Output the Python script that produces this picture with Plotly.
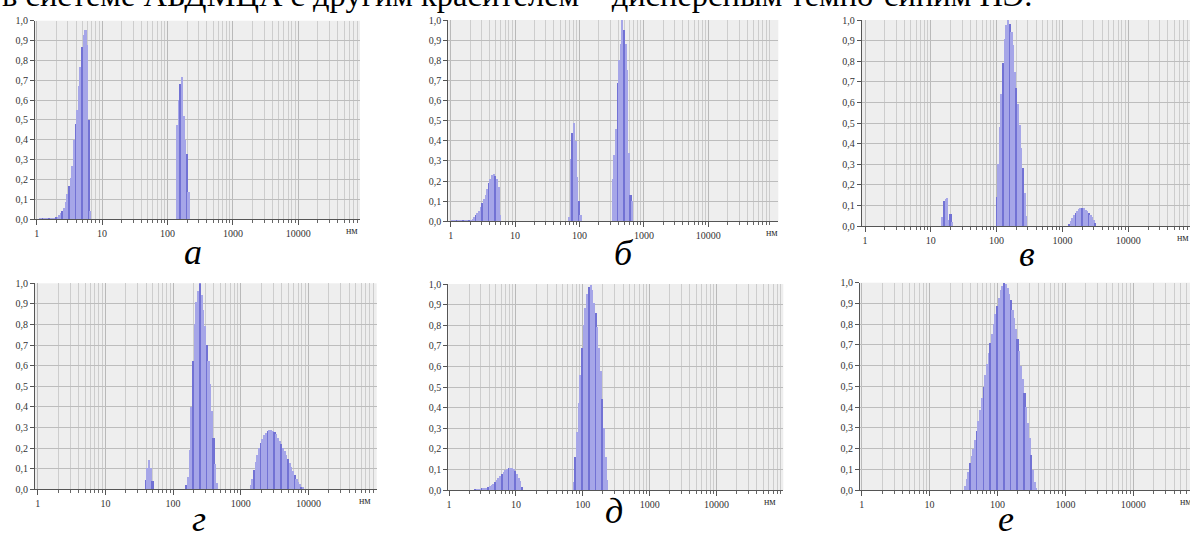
import math
import plotly.graph_objects as go

W, H = 1190, 535

# ---------------- data: particle size (nm) and relative intensity ----------------
# panel а
a_size = [1.12, 1.19, 1.26, 1.33, 1.41, 1.50, 1.58, 1.68, 1.78, 1.88, 2.00,
          2.11, 2.24, 2.37, 2.51, 2.66, 2.82, 2.99, 3.16, 3.35, 3.55, 3.76, 3.98, 4.22,
          4.47, 4.73, 5.01, 5.31, 5.62, 5.96, 6.31, 6.68,
          141.3, 149.6, 158.5, 167.9, 177.8, 188.4, 199.5, 211.3]
a_int = [0.005, 0.005, 0.005, 0.005, 0.006, 0.006, 0.006, 0.007, 0.007, 0.008, 0.010,
         0.012, 0.02, 0.03, 0.04, 0.055, 0.085, 0.13, 0.17, 0.21, 0.27, 0.40, 0.48, 0.55,
         0.67, 0.77, 0.87, 0.93, 0.955, 0.88, 0.50, 0.04,
         0.475, 0.60, 0.68, 0.72, 0.52, 0.40, 0.33, 0.14]

# panel б
b_size = [1.06, 1.12, 1.19, 1.26, 1.33, 1.41, 1.50, 1.58, 1.68, 1.78, 1.88, 2.00, 2.11,
          2.24, 2.37, 2.51, 2.66, 2.82, 2.99, 3.16, 3.35, 3.55, 3.76, 3.98, 4.22, 4.47,
          4.73, 5.01, 5.31, 5.62, 5.96,
          70.79, 74.99, 79.43, 84.14, 89.13, 94.41, 100.0, 105.9,
          335.0, 354.8, 375.8, 398.1, 421.7, 446.7, 473.2, 501.2, 530.9, 562.3, 595.7,
          631.0, 668.3]
b_int = [0.004, 0.004, 0.004, 0.004, 0.004, 0.004, 0.004, 0.004, 0.004, 0.004, 0.004,
         0.004, 0.004,
         0.012, 0.02, 0.03, 0.04, 0.05, 0.07, 0.09, 0.11, 0.13, 0.16, 0.19, 0.21, 0.23,
         0.235, 0.225, 0.21, 0.17, 0.03,
         0.02, 0.31, 0.44, 0.49, 0.40, 0.22, 0.10, 0.03,
         0.21, 0.33, 0.46, 0.685, 0.80, 0.88, 1.0, 0.95, 0.88, 0.75, 0.34, 0.13, 0.10]

# panel в
v_size = [14.96, 15.85, 16.79, 17.78, 18.84, 19.95, 21.13,
          100.0, 105.9, 112.2, 118.9, 125.9, 133.4, 141.3, 149.6, 158.5, 167.9, 177.8,
          188.4, 199.5, 211.3, 223.9, 237.1, 251.2, 266.1, 281.8,
          1259, 1334, 1413, 1496, 1585, 1679, 1778, 1884, 1995, 2113, 2239, 2371, 2512,
          2661, 2818, 2985, 3162]
v_int = [0.045, 0.12, 0.13, 0.135, 0.03, 0.06, 0.02,
         0.14, 0.30, 0.48, 0.64, 0.79, 0.91, 0.975, 1.0, 0.98, 0.94, 0.88,
         0.75, 0.67, 0.59, 0.49, 0.38, 0.28, 0.16, 0.05,
         0.01, 0.025, 0.04, 0.055, 0.065, 0.075, 0.082, 0.086, 0.087, 0.085, 0.08, 0.072,
         0.063, 0.053, 0.043, 0.03, 0.015]

# panel г
g_size = [39.81, 42.17, 44.67, 47.32, 50.12,
          158.5, 167.9, 177.8, 188.4, 199.5, 211.3, 223.9, 237.1, 251.2, 266.1, 281.8,
          298.5, 316.2, 335.0, 354.8, 375.8, 398.1, 421.7, 446.7,
          1413, 1496, 1585, 1679, 1778, 1884, 1995, 2113, 2239, 2371, 2512, 2661, 2818,
          2985, 3162, 3350, 3548, 3758, 3981, 4217, 4467, 4732, 5012, 5309, 5623, 5957,
          6310, 6683, 7079, 7499, 7943, 8414]
g_int = [0.045, 0.10, 0.142, 0.10, 0.04,
         0.02, 0.06, 0.19, 0.40, 0.62, 0.80, 0.91, 0.96, 1.0, 0.94, 0.87,
         0.79, 0.70, 0.62, 0.51, 0.38, 0.25, 0.12, 0.03,
         0.02, 0.05, 0.09, 0.13, 0.165, 0.20, 0.225, 0.245, 0.26, 0.272, 0.28, 0.285, 0.287,
         0.283, 0.275, 0.265, 0.25, 0.235, 0.22, 0.20, 0.185, 0.165, 0.145, 0.125, 0.105,
         0.085, 0.068, 0.05, 0.035, 0.022, 0.012, 0.005]

# panel д
d_size = [2.51, 2.66, 2.82, 2.99, 3.16, 3.35, 3.55, 3.76, 3.98, 4.22, 4.47, 4.73, 5.01,
          5.31, 5.62, 5.96, 6.31, 6.68, 7.08, 7.50, 7.94, 8.41, 8.91, 9.44, 10.0, 10.59,
          11.22, 11.89, 12.59,
          74.99, 79.43, 84.14, 89.13, 94.41, 100.0, 105.9, 112.2, 118.9, 125.9, 133.4,
          141.3, 149.6, 158.5, 167.9, 177.8, 188.4, 199.5, 211.3, 223.9, 237.1]
d_int = [0.003, 0.003, 0.004, 0.004, 0.005, 0.006, 0.008, 0.01, 0.013, 0.018, 0.024,
         0.03, 0.038, 0.048, 0.057, 0.068, 0.078, 0.088, 0.096, 0.102, 0.106, 0.107,
         0.105, 0.10, 0.09, 0.078, 0.06, 0.045, 0.016,
         0.04, 0.16, 0.28, 0.42, 0.56, 0.69, 0.80, 0.885, 0.95, 0.985, 0.995,
         0.97, 0.91, 0.86, 0.79, 0.69, 0.58, 0.44, 0.30, 0.16, 0.05]

# panel е
e_size = [33.50, 35.48, 37.58, 39.81, 42.17, 44.67, 47.32, 50.12, 53.09, 56.23, 59.57,
          63.10, 66.83, 70.79, 74.99, 79.43, 84.14, 89.13, 94.41, 100.0, 105.9, 112.2,
          118.9, 125.9, 133.4, 141.3, 149.6, 158.5, 167.9, 177.8, 188.4, 199.5, 211.3,
          223.9, 237.1, 251.2, 266.1, 281.8, 298.5, 316.2, 335.0, 354.8, 375.8]
e_int = [0.02, 0.055, 0.09, 0.13, 0.165, 0.20, 0.245, 0.285, 0.335, 0.385, 0.445,
         0.50, 0.555, 0.61, 0.66, 0.71, 0.755, 0.80, 0.85, 0.89, 0.93, 0.965,
         0.985, 1.0, 0.995, 0.975, 0.945, 0.92, 0.87, 0.83, 0.78, 0.73, 0.67,
         0.60, 0.535, 0.47, 0.40, 0.325, 0.25, 0.17, 0.10, 0.04, 0.01]

x_tick_vals = [1, 10, 100, 1000, 10000]
x_tick_text = ["1", "10", "100", "1000", "10000"]
y_tick_vals = [0.0, 0.1, 0.2, 0.3, 0.4, 0.5, 0.6, 0.7, 0.8, 0.9, 1.0]
y_tick_text = ["0,0", "0,1", "0,2", "0,3", "0,4", "0,5", "0,6", "0,7", "0,8", "0,9", "1,0"]
unit_text = "нм"
caption = "в системе АБДМЦА с другим красителем – дисперсным темно-синим ПЭ."

# ---------------- layout geometry (pixels) ----------------
panels = [
    dict(lab="а", s=a_size, v=a_int, left=35, x1=36.7, dec=65.4, right=360, top=20.7, bottom=219, ux=351.7, lx=193, lb=265),
    dict(lab="б", s=b_size, v=b_int, left=448.3, x1=450.7, dec=64.4, right=778.3, top=20, bottom=221.3, ux=771.7, lx=624, lb=266),
    dict(lab="в", s=v_size, v=v_int, left=861.7, x1=865, dec=65.8, right=1190, top=20, bottom=226, ux=1183, lx=1027, lb=267),
    dict(lab="г", s=g_size, v=g_int, left=35, x1=37.7, dec=67.7, right=376.7, top=283.3, bottom=489.3, ux=365, lx=199, lb=532),
    dict(lab="д", s=d_size, v=d_int, left=448.3, x1=449, dec=66.9, right=783.3, top=284, bottom=490, ux=770, lx=614, lb=524),
    dict(lab="е", s=e_size, v=e_int, left=860, x1=861.7, dec=67.9, right=1190, top=282.7, bottom=490, ux=1186, lx=1006, lb=532),
]

LIGHT = "#a6a6e8"
DARK = "#7272d4"
SERIF = "Liberation Serif, Times New Roman, serif"
minor_vals = [m * 10 ** e for e in range(0, 6) for m in range(2, 10)]
half = 10 ** 0.0128 - 10 ** -0.0128

fig = go.Figure()
annotations = []
for i, p in enumerate(panels, start=1):
    sfx = "" if i == 1 else str(i)
    kk = [round(40 * math.log10(s)) for s in p["s"]]
    colors = [DARK if k % 4 == 0 else LIGHT for k in kk]
    widths = [s * half for s in p["s"]]
    fig.add_trace(go.Bar(
        x=p["s"], y=p["v"], width=widths,
        marker=dict(color=colors, line=dict(width=0)),
        xaxis="x" + sfx, yaxis="y" + sfx, showlegend=False, hoverinfo="x+y",
    ))
    lo = (p["left"] - p["x1"]) / p["dec"]
    hi = (p["right"] - p["x1"]) / p["dec"]
    fig.layout["xaxis" + sfx] = dict(
        type="log", range=[lo, hi], domain=[p["left"] / W, min(p["right"] / W, 1.0)],
        anchor="y" + sfx, tickvals=x_tick_vals, ticktext=x_tick_text,
        ticks="outside", ticklen=5, tickwidth=1, tickcolor="#555555",
        showline=True, linecolor="#555555", linewidth=1,
        showgrid=True, gridcolor="#b9b9b9", gridwidth=1,
        minor=dict(tickvals=minor_vals, ticks="outside", ticklen=3, tickcolor="#666666",
                   showgrid=True, gridcolor="#cdcdcd", gridwidth=1),
        tickfont=dict(family=SERIF, size=10, color="#333333"),
        zeroline=False, automargin=False, fixedrange=True,
    )
    fig.layout["yaxis" + sfx] = dict(
        range=[0, 1.0], domain=[1 - p["bottom"] / H, 1 - p["top"] / H],
        anchor="x" + sfx, tickvals=y_tick_vals, ticktext=y_tick_text,
        ticks="outside", ticklen=4, tickwidth=1, tickcolor="#555555",
        showline=True, linecolor="#555555", linewidth=1,
        showgrid=True, gridcolor="#bdbdbd", gridwidth=1,
        tickfont=dict(family=SERIF, size=10, color="#333333"),
        zeroline=False, automargin=False, fixedrange=True,
    )
    annotations.append(dict(
        text=unit_text, x=p["ux"] / W, y=1 - (p["bottom"] + 11.5) / H,
        xref="paper", yref="paper", xanchor="center", yanchor="middle",
        showarrow=False, font=dict(family=SERIF, size=10, color="#333333"),
    ))
    fs = 36
    annotations.append(dict(
        text="<i>" + p["lab"] + "</i>", x=p["lx"] / W,
        y=1 - (p["lb"] + 0.216 * fs + 1) / H,
        xref="paper", yref="paper", xanchor="center", yanchor="bottom",
        showarrow=False, font=dict(family=SERIF, size=fs, color="#000000"),
    ))

cfs = 32.5
annotations.append(dict(
    text=caption, x=0, y=1 - (6.5 + 0.216 * cfs + 1) / H,
    xref="paper", yref="paper", xanchor="left", yanchor="bottom",
    showarrow=False, font=dict(family=SERIF, size=cfs, color="#000000"),
))

fig.update_layout(
    width=W, height=H, margin=dict(l=0, r=0, t=0, b=0),
    paper_bgcolor="#ffffff", plot_bgcolor="#eeeeee",
    barmode="overlay", bargap=0, annotations=annotations,
    template="none", showlegend=False,
)

fig.write_html("out.html", include_plotlyjs=True, config={"displayModeBar": False},
               post_script="document.body.style.margin='0';document.body.style.overflow='hidden';")
